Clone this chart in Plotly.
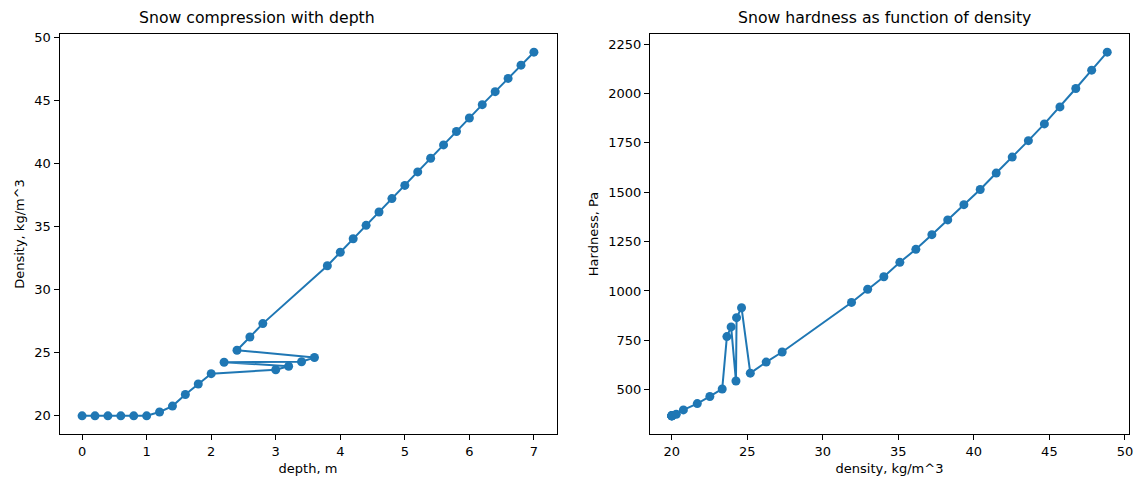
import plotly.graph_objects as go
from plotly.subplots import make_subplots

# Snow profile samples, ordered by density
depth_m = [0.0, 0.2, 0.4, 0.6, 0.8, 1.0, 1.2, 1.4, 1.6, 1.8, 2.0,
           3.0, 3.2, 2.2, 3.4, 3.6, 2.4, 2.6, 2.8,
           3.8, 4.0, 4.2, 4.4, 4.6, 4.8, 5.0, 5.2, 5.4, 5.6, 5.8,
           6.0, 6.2, 6.4, 6.6, 6.8, 7.0]
density = [20.0, 20.0, 20.0, 20.0, 20.0, 20.0, 20.3, 20.77, 21.69, 22.52, 23.34,
           23.65, 23.93, 24.25, 24.29, 24.62, 25.2, 26.25, 27.31,
           31.9, 32.97, 34.04, 35.1, 36.16, 37.22, 38.27, 39.34, 40.42, 41.48, 42.54,
           43.61, 44.67, 45.7, 46.75, 47.8, 48.83]
hardness = [368, 368, 368, 368, 368, 368, 376, 398, 430, 466, 504,
            769, 818, 544, 865, 915, 584, 640, 691,
            942, 1009, 1072, 1145, 1211, 1285, 1360, 1437, 1514, 1597, 1678,
            1761, 1846, 1932, 2025, 2118, 2209]

x1_ticks = [0, 1, 2, 3, 4, 5, 6, 7]
y1_ticks = [20, 25, 30, 35, 40, 45, 50]
x2_ticks = [20, 25, 30, 35, 40, 45, 50]
y2_ticks = [500, 750, 1000, 1250, 1500, 1750, 2000, 2250]

BLUE = "#1f77b4"
FONT = "DejaVu Sans"
W, H = 1141, 478


def padded(vals, frac=0.05):
    lo, hi = min(vals), max(vals)
    pad = (hi - lo) * frac
    return [lo - pad, hi + pad]


fig = make_subplots(rows=1, cols=2,
                    subplot_titles=("Snow compression with depth",
                                    "Snow hardness as function of density"))

line_style = dict(color=BLUE, width=2)
marker_style = dict(color=BLUE, size=9)

fig.add_trace(go.Scatter(x=depth_m, y=density, mode="lines+markers",
                         line=line_style, marker=marker_style,
                         showlegend=False), row=1, col=1)
fig.add_trace(go.Scatter(x=density, y=hardness, mode="lines+markers",
                         line=line_style, marker=marker_style,
                         showlegend=False), row=1, col=2)

# plot-area geometry in pixels
left1, right1 = 59.5, 556.5
left2, right2 = 650.0, 1129.0
top, bottom = 34.0, 434.0

axis_common = dict(showline=True, linecolor="black", linewidth=1, mirror=True,
                   ticks="outside", ticklen=5, tickwidth=1, tickcolor="black",
                   showgrid=False, zeroline=False, automargin=False,
                   tickfont=dict(family=FONT, size=13, color="black"))

fig.update_xaxes(**axis_common)
fig.update_yaxes(**axis_common)

fig.update_layout(
    xaxis=dict(domain=[left1 / W, right1 / W], range=padded(depth_m),
               tickvals=x1_ticks,
               title=dict(text="depth, m", standoff=6,
                          font=dict(family=FONT, size=13, color="black"))),
    yaxis=dict(domain=[1 - bottom / H, 1 - top / H], range=padded(density),
               tickvals=y1_ticks,
               title=dict(text="Density, kg/m^3", standoff=6,
                          font=dict(family=FONT, size=13, color="black"))),
    xaxis2=dict(domain=[left2 / W, right2 / W], range=padded(density),
                tickvals=x2_ticks,
                title=dict(text="density, kg/m^3", standoff=6,
                           font=dict(family=FONT, size=13, color="black"))),
    yaxis2=dict(domain=[1 - bottom / H, 1 - top / H], range=padded(hardness),
                tickvals=y2_ticks,
                title=dict(text="Hardness, Pa", standoff=6,
                           font=dict(family=FONT, size=13, color="black"))),
    width=W, height=H,
    margin=dict(l=0, r=0, t=0, b=0),
    paper_bgcolor="white", plot_bgcolor="white",
    font=dict(family=FONT, color="black"),
)

# subplot titles sit just above each panel
for ann in fig.layout.annotations:
    ann.font = dict(family=FONT, size=15.7, color="black")
    ann.yanchor = "bottom"
    ann.y = 1 - top / H
    ann.yshift = 5

fig.write_html("out.html")
